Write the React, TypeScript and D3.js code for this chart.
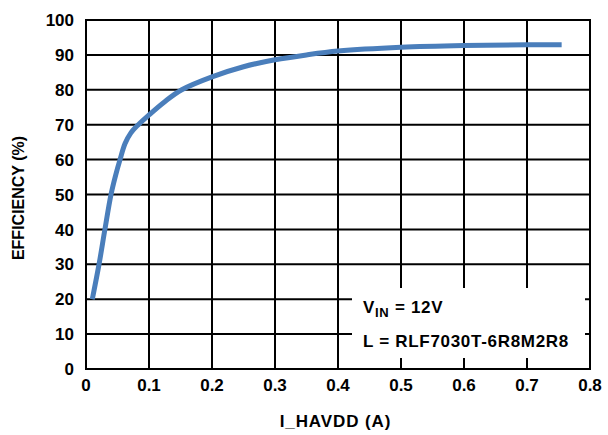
import React from "react";
import * as d3 from "d3";

const currentA = [0.01, 0.0207, 0.03, 0.0397, 0.047, 0.054, 0.062, 0.071, 0.083, 0.1, 0.125, 0.152, 0.2, 0.25, 0.3, 0.35, 0.4, 0.5, 0.6, 0.7, 0.755];
const efficiency = [20, 30, 40, 50, 55.5, 60, 64.6, 67.6, 70.0, 72.8, 76.6, 80, 83.7, 86.6, 88.6, 90.0, 91.1, 92.2, 92.7, 92.9, 92.9];
const xTicks = [0, 0.1, 0.2, 0.3, 0.4, 0.5, 0.6, 0.7, 0.8];
const yTicks = [0, 10, 20, 30, 40, 50, 60, 70, 80, 90, 100];

const W = 608, H = 435;
const L = 86, R = 590, T = 20, B = 369;
const FONT = "'Liberation Sans', Arial, sans-serif";

export default function App() {
  const x = d3.scaleLinear().domain([0, 0.8]).range([L, R]);
  const y = d3.scaleLinear().domain([0, 100]).range([B, T]);
  const pts = currentA.map((c, i) => [c, efficiency[i]] as [number, number]);
  const line = d3.line<[number, number]>().x(d => x(d[0])).y(d => y(d[1])).curve(d3.curveCatmullRom.alpha(0.5));
  return (
    <svg width={W} height={H} style={{ position: "absolute", left: 0, top: 0, background: "#fff" }}
      fontFamily={FONT} fontWeight="bold">
      <rect x={0} y={0} width={W} height={H} fill="#fff" />
      {xTicks.map(t => (
        <line key={"gx" + t} x1={x(t)} x2={x(t)} y1={T} y2={B} stroke="#000" strokeWidth={2} />
      ))}
      {yTicks.map(t => (
        <line key={"gy" + t} x1={L} x2={R} y1={y(t)} y2={y(t)} stroke="#000" strokeWidth={2} />
      ))}
      <rect x={L} y={T} width={R - L} height={B - T} fill="none" stroke="#000" strokeWidth={2} />
      <path d={line(pts) || ""} fill="none" stroke="#4a7ebb" strokeWidth={5} />
      <rect x={352} y={288} width={233} height={70} fill="#fff" />
      <text x={363} y={313} fontSize={17} letterSpacing={0.7}>
        V<tspan fontSize={13} dy={4}>IN</tspan><tspan dy={-4}> = 12V</tspan>
      </text>
      <text x={363} y={347} fontSize={17} letterSpacing={0.7}>L = RLF7030T-6R8M2R8</text>
      {yTicks.map(t => (
        <text key={"ty" + t} x={74} y={y(t)} dy="0.36em" textAnchor="end" fontSize={17}>{t}</text>
      ))}
      {xTicks.map(t => (
        <text key={"tx" + t} x={x(t)} y={391} textAnchor="middle" fontSize={17}>{t === 0 ? "0" : t.toFixed(1)}</text>
      ))}
      <text x={335.5} y={427} textAnchor="middle" fontSize={17} letterSpacing={0.9}>I_HAVDD (A)</text>
      <text transform={`translate(24,198) rotate(-90)`} textAnchor="middle" fontSize={16}>EFFICIENCY (%)</text>
    </svg>
  );
}
